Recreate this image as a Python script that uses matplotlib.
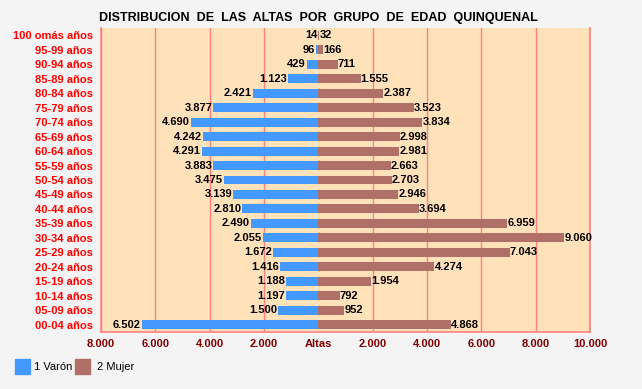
import numpy as np
import matplotlib.pyplot as plt
from matplotlib.patches import Rectangle

plt.rcParams['font.family'] = ['Liberation Sans', 'DejaVu Sans']

# age groups from bottom to top
grupos = ["00-04 años", "05-09 años", "10-14 años", "15-19 años", "20-24 años",
          "25-29 años", "30-34 años", "35-39 años", "40-44 años", "45-49 años",
          "50-54 años", "55-59 años", "60-64 años", "65-69 años", "70-74 años",
          "75-79 años", "80-84 años", "85-89 años", "90-94 años", "95-99 años",
          "100 omás años"]
varon = [6502, 1500, 1197, 1188, 1416, 1672, 2055, 2490, 2810, 3139,
         3475, 3883, 4291, 4242, 4690, 3877, 2421, 1123, 429, 96, 14]
mujer = [4868, 952, 792, 1954, 4274, 7043, 9060, 6959, 3694, 2946,
         2703, 2663, 2981, 2998, 3834, 3523, 2387, 1555, 711, 166, 32]
xticks = [-8000, -6000, -4000, -2000, 0, 2000, 4000, 6000, 8000, 10000]
xticklabels = ["8.000", "6.000", "4.000", "2.000", "Altas",
               "2.000", "4.000", "6.000", "8.000", "10.000"]

def fmt(v):
  return "{:,}".format(v).replace(",", ".")

blue = "#4499ff"
brown = "#b07068"

fig = plt.figure(figsize=(6.42, 3.89), dpi=100, facecolor="#f4f4f4")
ax = fig.add_axes([101/642, 1-332/389, 489/642, 304/389])
ax.set_facecolor("#ffe1ba")

y = np.arange(len(grupos))
ax.barh(y, [-v for v in varon], height=0.62, color=blue, zorder=3)
ax.barh(y, mujer, height=0.62, color=brown, zorder=3)

for i in range(len(grupos)):
  ax.text(-varon[i] - 25, y[i], fmt(varon[i]), ha="right", va="center",
          fontsize=8, fontweight="bold", color="black", zorder=4)
  ax.text(mujer[i] + 5, y[i], fmt(mujer[i]), ha="left", va="center",
          fontsize=8, fontweight="bold", color="black", zorder=4)

ax.set_xlim(-8000, 10000)
ax.set_ylim(-0.5, len(grupos) - 0.5)
ax.set_xticks(xticks)
ax.set_xticklabels(xticklabels, fontsize=8, fontweight="bold", color="#800000")
ax.set_yticks(y)
ax.set_yticklabels(grupos, fontsize=8, fontweight="bold", color="#ff0000")
ax.tick_params(length=0, pad=5, axis="x")
ax.tick_params(length=0, pad=6, axis="y")
for g in xticks:
  if g != 0:
    ax.axvline(g, color="#ff8080", lw=1, zorder=2)
for side in ["left", "right", "bottom"]:
  ax.spines[side].set_color("#ff8080")
  ax.spines[side].set_linewidth(1.2)
ax.spines["top"].set_visible(False)

fig.text(318/642, 1-18/389, "DISTRIBUCION  DE  LAS  ALTAS  POR  GRUPO  DE  EDAD  QUINQUENAL",
         ha="center", va="center", fontsize=9, fontweight="bold", color="black")

# legend
fig.patches.append(Rectangle((15/642, 1-374/389), 15/642, 15/389,
                             transform=fig.transFigure, color=blue))
fig.text(34/642, 1-367/389, "1 Varón", fontsize=8, va="center")
fig.patches.append(Rectangle((75/642, 1-374/389), 15/642, 15/389,
                             transform=fig.transFigure, color=brown))
fig.text(97/642, 1-367/389, "2 Mujer", fontsize=8, va="center")

plt.savefig("out.png", dpi=100, facecolor=fig.get_facecolor())
